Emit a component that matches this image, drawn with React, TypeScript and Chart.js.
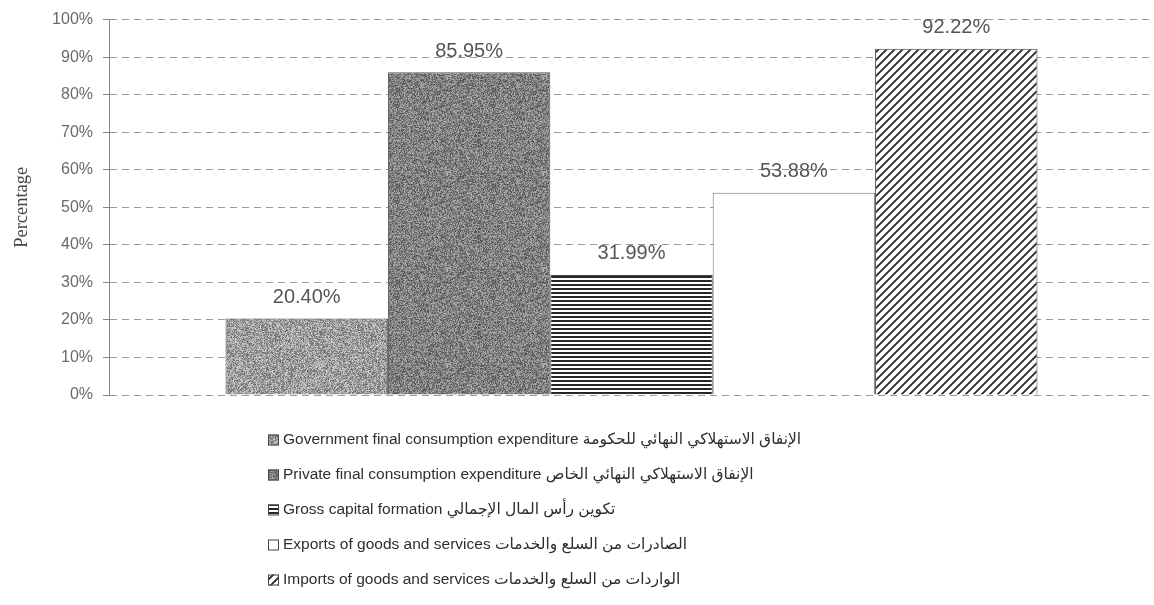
import React, { useEffect, useRef } from 'react';
import { Chart, registerables } from 'chart.js';

Chart.register(...registerables);

// ---- data ----
const categories = ['GDP components'];
const seriesEnglish = [
  'Government final consumption expenditure',
  'Private final consumption expenditure',
  'Gross capital formation',
  'Exports of goods and services',
  'Imports of goods and services',
];
const seriesArabic = [
  'الإنفاق الاستهلاكي النهائي للحكومة',
  'الإنفاق الاستهلاكي النهائي الخاص',
  'تكوين رأس المال الإجمالي',
  'الصادرات من السلع والخدمات',
  'الواردات من السلع والخدمات',
];
const seriesValues = [20.4, 85.95, 31.99, 53.88, 92.22];
const yTickValues = [0, 10, 20, 30, 40, 50, 60, 70, 80, 90, 100];
const yTickLabels = ['0%', '10%', '20%', '30%', '40%', '50%', '60%', '70%', '80%', '90%', '100%'];
const yAxisTitle = 'Percentage';

// ---- styling helpers (textures only) ----
function hash(n: number): number {
  let x = Math.imul(n ^ 0x9e3779b9, 0x85ebca6b);
  x ^= x >>> 13;
  x = Math.imul(x, 0xc2b2ae35);
  x ^= x >>> 16;
  return (x >>> 0) / 4294967295;
}

function noiseCanvas(base: number, spread: number, seed: number): HTMLCanvasElement {
  const size = 96;
  const c = document.createElement('canvas');
  c.width = size;
  c.height = size;
  const g = c.getContext('2d')!;
  const img = g.createImageData(size, size);
  for (let i = 0; i < size * size; i++) {
    const h = hash(i * 7 + seed);
    const v = Math.max(0, Math.min(255, Math.round(base + (h - 0.5) * spread)));
    img.data[i * 4] = v;
    img.data[i * 4 + 1] = v;
    img.data[i * 4 + 2] = v;
    img.data[i * 4 + 3] = 255;
  }
  g.putImageData(img, 0, 0);
  return c;
}

function hLinesCanvas(): HTMLCanvasElement {
  const c = document.createElement('canvas');
  c.width = 4;
  c.height = 4;
  const g = c.getContext('2d')!;
  g.fillStyle = '#ffffff';
  g.fillRect(0, 0, 4, 4);
  g.fillStyle = '#262626';
  g.fillRect(0, 0, 4, 2);
  return c;
}

function diagCanvas(): HTMLCanvasElement {
  const s = 8;
  const c = document.createElement('canvas');
  c.width = s;
  c.height = s;
  const g = c.getContext('2d')!;
  g.fillStyle = '#ffffff';
  g.fillRect(0, 0, s, s);
  g.strokeStyle = '#262626';
  g.lineWidth = 1.8;
  g.beginPath();
  g.moveTo(0, s);
  g.lineTo(s, 0);
  g.moveTo(-2, 2);
  g.lineTo(2, -2);
  g.moveTo(s - 2, s + 2);
  g.lineTo(s + 2, s - 2);
  g.stroke();
  return c;
}

export default function App() {
  const ref = useRef<HTMLCanvasElement | null>(null);

  useEffect(() => {
    document.body.style.margin = '0';
    const canvas = ref.current!;
    const ctx = canvas.getContext('2d')!;

    const fills: (CanvasPattern | string)[] = [
      ctx.createPattern(noiseCanvas(158, 110, 11), 'repeat')!,
      ctx.createPattern(noiseCanvas(128, 100, 29), 'repeat')!,
      ctx.createPattern(hLinesCanvas(), 'repeat')!,
      '#ffffff',
      ctx.createPattern(diagCanvas(), 'repeat')!,
    ];
    const borders = ['#555555', '#555555', '#444444', '#7a7a7a', '#444444'];

    const valueLabels = {
      id: 'valueLabels',
      afterDatasetsDraw(chart: any) {
        const c = chart.ctx;
        c.save();
        c.font = '20px "Liberation Sans", Arial, sans-serif';
        c.fillStyle = '#555555';
        c.textAlign = 'center';
        c.textBaseline = 'middle';
        chart.data.datasets.forEach((ds: any, i: number) => {
          const meta = chart.getDatasetMeta(i);
          meta.data.forEach((el: any, j: number) => {
            const v = ds.data[j] as number;
            c.fillText(v.toFixed(2) + '%', el.x, el.y - 21);
          });
        });
        c.restore();
      },
    };

    const customLegend = {
      id: 'customLegend',
      afterDraw(chart: any) {
        const c = chart.ctx;
        c.save();
        const x0 = 268;
        const y0 = 440;
        const step = 35;
        c.font = '15.5px "Liberation Sans", Arial, "DejaVu Sans", sans-serif';
        c.textBaseline = 'middle';
        c.textAlign = 'left';
        chart.data.datasets.forEach((ds: any, i: number) => {
          const y = y0 + i * step;
          const box = 11;
          c.fillStyle = ds.backgroundColor;
          c.fillRect(x0, y - box / 2, box, box);
          c.strokeStyle = '#444444';
          c.lineWidth = 1;
          c.strokeRect(x0 + 0.5, y - box / 2 + 0.5, box - 1, box - 1);
          c.fillStyle = '#2e2e2e';
          c.fillText(ds.label, x0 + 15, y);
        });
        c.restore();
      },
    };

    const chart = new Chart(canvas, {
      type: 'bar',
      data: {
        labels: categories,
        datasets: seriesValues.map((v, i) => ({
          label: seriesEnglish[i] + ' ' + seriesArabic[i],
          data: [v],
          backgroundColor: fills[i] as any,
          borderColor: borders[i],
          borderWidth: 1,
          categoryPercentage: 0.777,
          barPercentage: 1,
        })),
      },
      options: {
        responsive: false,
        animation: false,
        layout: { padding: { top: 17, right: 0, bottom: 210, left: 0 } },
        plugins: {
          legend: { display: false },
          tooltip: { enabled: false },
          title: { display: false },
        },
        scales: {
          x: {
            display: false,
            grid: { display: false },
          },
          y: {
            min: 0,
            max: 100,
            afterFit(scale: any) {
              scale.width = 109;
            },
            afterBuildTicks(scale: any) {
              scale.ticks = yTickValues.map((v) => ({ value: v }));
            },
            ticks: {
              padding: 10,
              color: '#6a6a6a',
              font: { family: '"Liberation Sans", Arial, sans-serif', size: 16 },
              callback: (v: any) => yTickLabels[yTickValues.indexOf(Number(v))] ?? '',
            },
            grid: {
              color: '#9a9a9a',
              lineWidth: 1,
              tickLength: 6,
              tickColor: '#888888',
              tickBorderDash: [],
            },
            border: {
              display: true,
              color: '#888888',
              width: 1,
              dash: [7, 5],
            },
            title: {
              display: true,
              text: yAxisTitle,
              color: '#444444',
              font: { family: '"Liberation Serif", "Times New Roman", serif', size: 18.5 },
              padding: { top: 11, bottom: 0 },
            },
          },
        },
      },
      plugins: [valueLabels, customLegend],
    } as any);

    return () => chart.destroy();
  }, []);

  return (
    <div style={{ width: 1154, height: 605 }}>
      <canvas ref={ref} width={1154} height={605} style={{ display: 'block' }} />
    </div>
  );
}
